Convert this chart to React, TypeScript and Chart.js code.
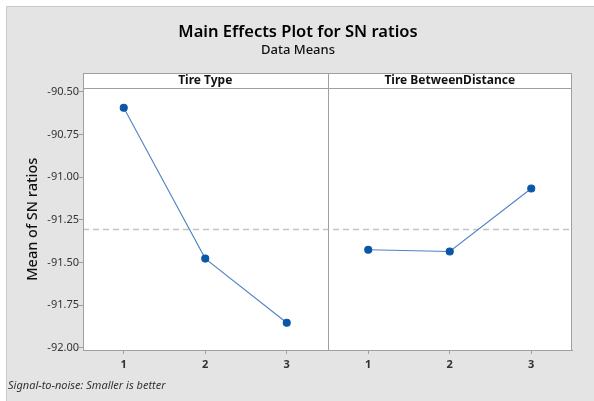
import React, { useEffect, useRef } from "react";
import { Chart, registerables } from "chart.js";

Chart.register(...registerables);

const levels = [1, 2, 3];
const panelNames = ["Tire Type", "Tire BetweenDistance"];
const tireType = [-90.594, -91.478, -91.854];
const tireBetweenDistance = [-91.426, -91.436, -91.067];
const overallMean = -91.308;
const yTicks = [-90.5, -90.75, -91.0, -91.25, -91.5, -91.75, -92.0];
const titleText = "Main Effects Plot for SN ratios";
const subtitleText = "Data Means";
const yTitle = "Mean of SN ratios";
const footerText = "Signal-to-noise: Smaller is better";

const FONT = "'Noto Sans', 'Open Sans', sans-serif";
const BORDER = "#a0a0a0";

const decorPlugin = {
  id: "decor",
  beforeDraw(chart: any) {
    const { ctx, chartArea: a, width, height } = chart;
    ctx.save();
    ctx.fillStyle = "#ffffff";
    ctx.fillRect(0, 0, width, height);
    ctx.fillStyle = "#e4e4e4";
    ctx.fillRect(6, 6, width - 6, height - 6);
    ctx.strokeStyle = "#c8c8c8";
    ctx.lineWidth = 1;
    ctx.beginPath();
    ctx.moveTo(6.5, height);
    ctx.lineTo(6.5, 6.5);
    ctx.lineTo(width, 6.5);
    ctx.stroke();
    const headTop = a.top - 15;
    ctx.fillStyle = "#ffffff";
    ctx.fillRect(a.left, headTop, a.right - a.left, a.bottom - headTop);
    ctx.restore();
  },
  afterDraw(chart: any) {
    const { ctx, chartArea: a, height } = chart;
    const xs = chart.scales.x;
    const headTop = a.top - 15;
    ctx.save();
    ctx.strokeStyle = BORDER;
    ctx.lineWidth = 1;
    ctx.strokeRect(Math.round(a.left) + 0.5, Math.round(headTop) + 0.5, Math.round(a.right - a.left) - 1, Math.round(a.bottom - headTop));
    ctx.beginPath();
    ctx.moveTo(a.left, Math.round(a.top) + 0.5);
    ctx.lineTo(a.right, Math.round(a.top) + 0.5);
    const mid = Math.round(xs.getPixelForValue(3.5)) + 0.5;
    ctx.moveTo(mid, headTop);
    ctx.lineTo(mid, a.bottom);
    ctx.stroke();
    ctx.fillStyle = "#111111";
    ctx.font = `bold 12px ${FONT}`;
    ctx.textAlign = "center";
    ctx.textBaseline = "middle";
    panelNames.forEach((n, i) => {
      const c = xs.getPixelForValue(2 + i * 3);
      ctx.fillText(n, c, headTop + 7.5);
    });
    ctx.font = `italic 11px ${FONT}`;
    ctx.textAlign = "left";
    ctx.fillStyle = "#333333";
    ctx.fillText(footerText, 8, height - 15);
    ctx.restore();
  },
};

export default function App() {
  const ref = useRef<HTMLCanvasElement>(null);
  useEffect(() => {
    document.body.style.margin = "0";
    const lineColor = "#4f82c4";
    const pointColor = "#0a56a8";
    const chart = new Chart(ref.current!, {
      type: "line",
      data: {
        datasets: [
          {
            label: panelNames[0],
            data: levels.map((l, i) => ({ x: l, y: tireType[i] })),
            borderColor: lineColor,
            borderWidth: 1.1,
            pointBackgroundColor: pointColor,
            pointBorderColor: pointColor,
            pointRadius: 3.5,
            showLine: true,
          },
          {
            label: panelNames[1],
            data: levels.map((l, i) => ({ x: l + 3, y: tireBetweenDistance[i] })),
            borderColor: lineColor,
            borderWidth: 1.1,
            pointBackgroundColor: pointColor,
            pointBorderColor: pointColor,
            pointRadius: 3.5,
            showLine: true,
          },
          {
            label: "Mean",
            data: [
              { x: 0.5, y: overallMean },
              { x: 6.5, y: overallMean },
            ],
            borderColor: "#c4c4c4",
            borderWidth: 1.5,
            borderDash: [6, 4],
            pointRadius: 0,
            showLine: true,
          },
        ],
      },
      options: {
        animation: false,
        responsive: false,
        events: [],
        layout: { padding: { left: 24, right: 22, top: 0, bottom: 0 } },
        plugins: {
          legend: { display: false },
          tooltip: { enabled: false },
          title: {
            display: true,
            text: titleText,
            color: "#000000",
            font: { family: FONT, size: 16.5, weight: 600 },
            padding: { top: 22, bottom: 1 },
          },
          subtitle: {
            display: true,
            text: subtitleText,
            color: "#111111",
            font: { family: FONT, size: 13, weight: 500 },
            padding: { top: 0, bottom: 30 },
          },
        },
        scales: {
          x: {
            type: "linear",
            min: 0.5,
            max: 6.5,
            afterBuildTicks: (s: any) => {
              s.ticks = [...levels, ...levels.map((l) => l + 3)].map((v) => ({ value: v }));
            },
            afterFit: (s: any) => {
              s.height = 51;
            },
            ticks: {
              color: "#333333",
              font: { family: FONT, size: 11, weight: "bold" },
              padding: 4,
              callback: (v: any) => String(((Number(v) - 1) % 3) + 1),
            },
            grid: { drawOnChartArea: false, drawTicks: true, tickLength: 4, color: BORDER },
            border: { color: BORDER },
          },
          y: {
            type: "linear",
            min: -92.0135,
            max: -90.4806,
            afterBuildTicks: (s: any) => {
              s.ticks = yTicks.map((v) => ({ value: v }));
            },
            afterFit: (s: any) => {
              s.width = 59;
            },
            ticks: {
              color: "#333333",
              font: { family: FONT, size: 11 },
              padding: 0,
              callback: (v: any) => Number(v).toFixed(2),
            },
            title: {
              display: true,
              text: yTitle,
              color: "#111111",
              font: { family: FONT, size: 14.5, weight: 500 },
              padding: { top: 0, bottom: 0 },
            },
            grid: { drawOnChartArea: false, drawTicks: true, tickLength: 4, color: BORDER },
            border: { color: BORDER },
          },
        },
      },
      plugins: [decorPlugin],
    } as any);
    return () => chart.destroy();
  }, []);
  return <canvas ref={ref} width={594} height={401} style={{ display: "block" }} />;
}
